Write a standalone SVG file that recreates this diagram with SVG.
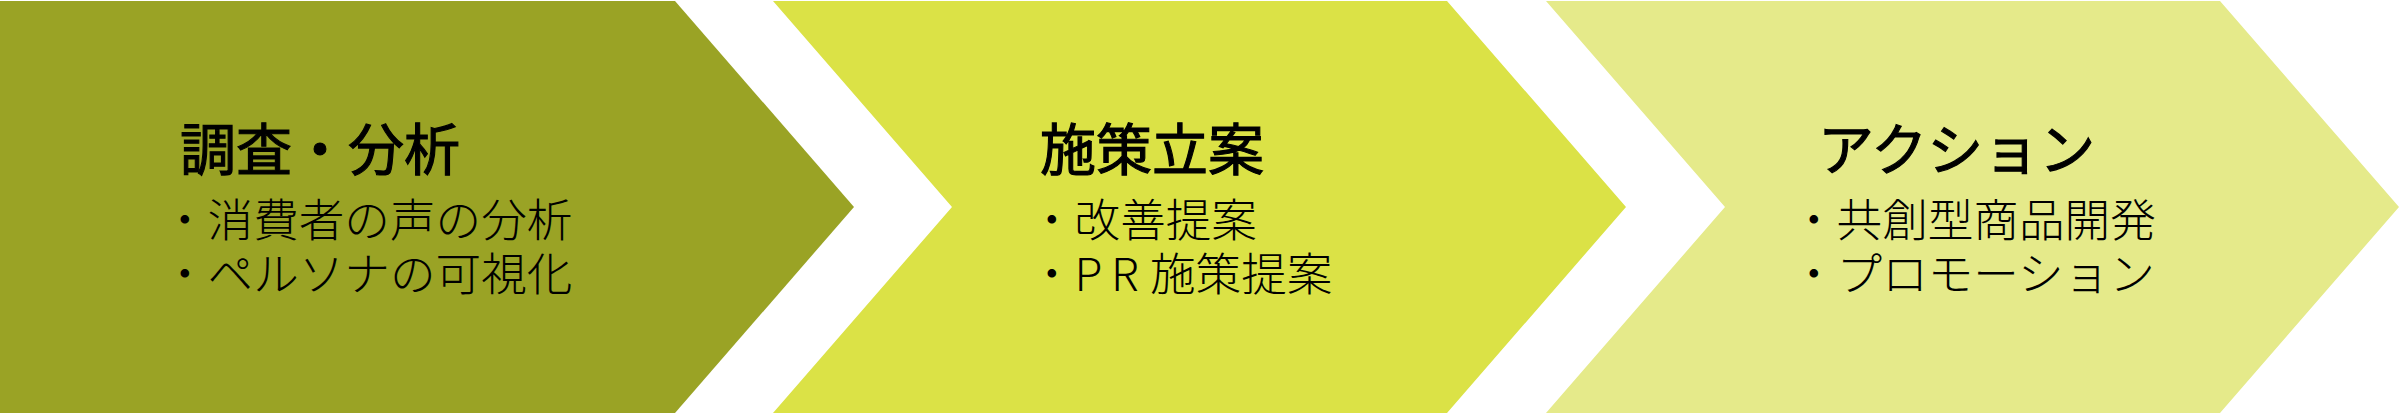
<svg xmlns="http://www.w3.org/2000/svg" width="2400" height="413" viewBox="0 0 2400 413">
<style>
.t{font-family:"Noto Sans CJK JP","Noto Sans CJK SC",sans-serif;fill:#000;}
.h{font-size:56px;font-weight:400;stroke:#000;stroke-width:1.1px;}
.b{font-size:45.6px;font-weight:300;}
</style>
<rect width="2400" height="413" fill="#ffffff"/>
<g id="step1">
<polygon points="0,1 675,1 854,207 675,413 0,413" fill="#9AA325"/>
<text class="t h" x="180" y="170">調査・分析</text>
<text class="t b" x="162" y="237">・消費者の声の分析</text>
<text class="t b" x="162" y="291">・ペルソナの可視化</text>
</g>
<g id="step2">
<polygon points="773,1 1447,1 1626,207 1447,413 773,413 952,207" fill="#DBE246"/>
<text class="t h" x="1040" y="170">施策立案</text>
<text class="t b" x="1029" y="237">・改善提案</text>
<text class="t b" x="1029" y="291">・P<tspan x="1111">R</tspan><tspan x="1150">施策提案</tspan></text>
</g>
<g id="step3">
<polygon points="1546,1 2220,1 2399,207 2220,413 1546,413 1725,207" fill="#E5EA8A"/>
<text class="t h" x="1818" y="170">アクション</text>
<text class="t b" x="1791" y="237">・共創型商品開発</text>
<text class="t b" x="1791" y="291">・プロモーション</text>
</g>
<g id="connectors"></g>
</svg>
